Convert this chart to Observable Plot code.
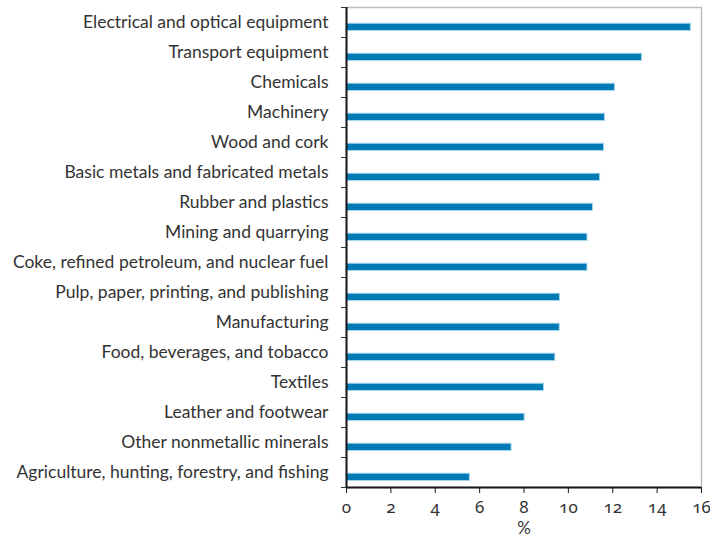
<!DOCTYPE html>
<html>
<head>
<meta charset="utf-8">
<script src="https://cdn.jsdelivr.net/npm/d3@7"></script>
<script src="https://cdn.jsdelivr.net/npm/@observablehq/plot@0.6"></script>
<style>
  body { margin: 0; background: #fff; }
  .xax text { font-family: "Noto Sans", Lato, sans-serif; font-variant-numeric: oldstyle-nums; font-feature-settings: "onum" 1; }
</style>
</head>
<body>
<div id="chart"></div>
<script>
const categories = [
  "Electrical and optical equipment",
  "Transport equipment",
  "Chemicals",
  "Machinery",
  "Wood and cork",
  "Basic metals and fabricated metals",
  "Rubber and plastics",
  "Mining and quarrying",
  "Coke, refined petroleum, and nuclear fuel",
  "Pulp, paper, printing, and publishing",
  "Manufacturing",
  "Food, beverages, and tobacco",
  "Textiles",
  "Leather and footwear",
  "Other nonmetallic minerals",
  "Agriculture, hunting, forestry, and fishing"
];
const values = [15.52, 13.32, 12.10, 11.65, 11.61, 11.43, 11.11, 10.86, 10.86, 9.62, 9.61, 9.41, 8.90, 8.03, 7.44, 5.56];
const xTicks = [0, 2, 4, 6, 8, 10, 12, 14, 16];
const xLabel = "%";

const data = categories.map((c, i) => ({category: c, value: values[i]}));

const chart = Plot.plot({
  width: 710,
  height: 538,
  marginLeft: 346,
  marginRight: 9,
  marginTop: 7,
  marginBottom: 51,
  style: {fontFamily: "Lato", fontSize: "17.5px", color: "#333", background: "#fff"},
  x: {domain: [0, 16], label: null},
  y: {domain: categories, padding: 0, label: null},
  marks: [
    Plot.frame({stroke: "#bdbdbd", strokeWidth: 1.5}),
    Plot.barX(data, {x: "value", y: "category", fill: "#007ab5", stroke: "#a8d5ee", strokeWidth: 1, insetTop: 16.2, insetBottom: 6.5}),
    Plot.ruleX([0], {stroke: "#1a1a1a", strokeWidth: 2}),
    Plot.ruleY([categories[categories.length - 1]], {stroke: "#1a1a1a", strokeWidth: 2, dy: 15}),
    Plot.axisY({tickSize: 0, tickPadding: 18, fontSize: 17.5, fill: "#333", label: null}),
    Plot.axisY({ticks: categories, tickSize: 5, tickFormat: () => "", dy: -15, stroke: "#333", label: null}),
    Plot.axisY({ticks: [categories[categories.length - 1]], tickSize: 5, tickFormat: () => "", dy: 15, stroke: "#333", label: null}),
    Plot.axisX({ticks: xTicks, tickSize: 6, tickPadding: 7, label: null, fontSize: 17, fill: "#333", stroke: "#1a1a1a", className: "xax"}),
    Plot.text([xLabel], {frameAnchor: "bottom", lineAnchor: "middle", dy: 41, fontSize: 17, fill: "#333"})
  ]
});
document.getElementById("chart").appendChild(chart);
</script>
</body>
</html>
